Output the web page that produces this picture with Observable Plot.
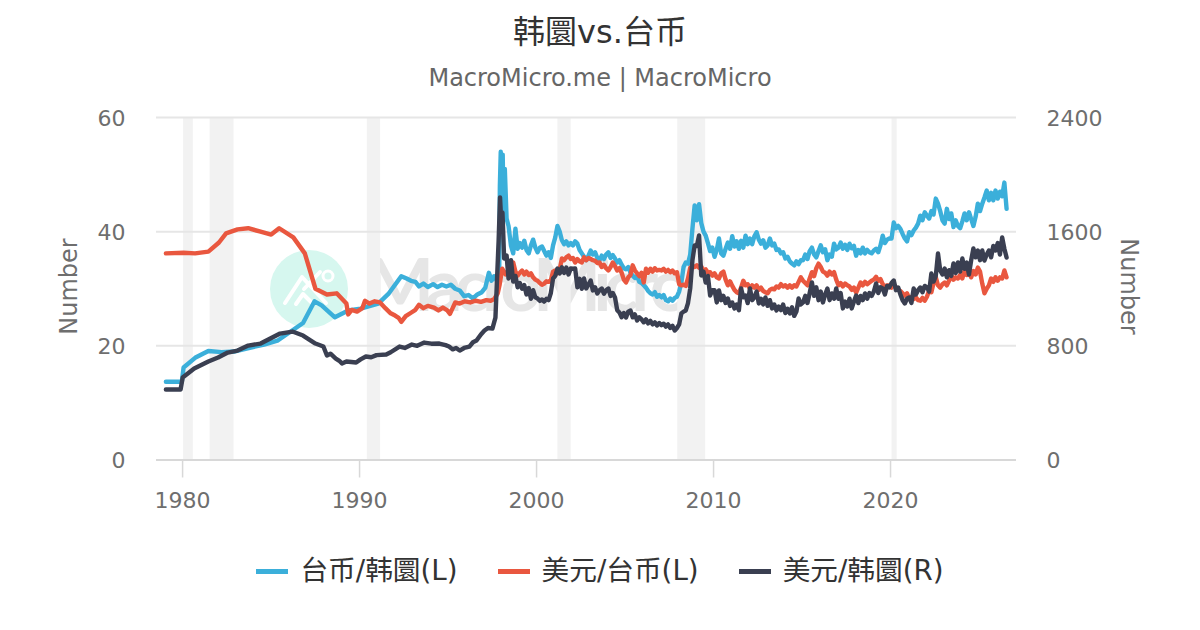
<!DOCTYPE html>
<html><head><meta charset="utf-8">
<script src="https://cdn.jsdelivr.net/npm/d3@7"></script>
<script src="https://cdn.jsdelivr.net/npm/@observablehq/plot@0.6"></script>
<style>
html,body{margin:0;padding:0;background:#fff;width:1200px;height:630px;overflow:hidden;font-family:"DejaVu Sans","Noto Sans CJK SC",sans-serif}
#wrap{position:relative;width:1200px;height:630px}
#title{position:absolute;left:0;width:1200px;top:11px;text-align:center;font-size:32px;line-height:42px;color:#333}
#sub{position:absolute;left:0;width:1200px;top:63px;text-align:center;font-size:24px;line-height:30px;color:#666}
#mark{position:absolute;left:0;top:0}
#chart{position:absolute;left:0;top:0}
#legend{position:absolute;left:0;width:1200px;top:551px;height:40px;display:flex;justify-content:center;gap:40px;font-size:27.7px;line-height:38px;color:#333}
#legend span{display:flex;align-items:center;gap:12px}
#legend i{display:block;width:32px;height:5px}
</style></head><body>
<div id="wrap">
<div id="title">韩圜vs.台币</div>
<div id="sub">MacroMicro.me | MacroMicro</div>
<svg id="mark" width="1200" height="630">
  <circle cx="309" cy="289" r="39" fill="#d6f7ef"/>
  <path d="M285 303 L302 277 L326 303 M296 304 L303 294 L313 304 M304 289 L320 272" fill="none" stroke="#fff" stroke-width="4" stroke-linecap="round" stroke-linejoin="round"/>
  <circle cx="328" cy="276" r="5" fill="none" stroke="#fff" stroke-width="3"/>
  <text x="366" y="311" font-size="72" font-weight="bold" fill="#e6e6e6" font-family="Lato,'DejaVu Sans',sans-serif" textLength="325">MacroMicro</text>
</svg>
<div id="chart"></div>
<div id="legend"></div>
</div>
<script>
const seriesNames = ["台币/韩圜(L)", "美元/台币(L)", "美元/韩圜(R)"];
const seriesColors = ["#3BAFDA", "#E9573F", "#3A3F51"];
const recessionStart = [1980.0, 1981.5, 1990.38, 2001.15, 2007.92, 2020.03];
const recessionEnd   = [1980.55, 1982.85, 1991.13, 2001.9, 2009.5, 2020.32];
const xTicks = [1980, 1990, 2000, 2010, 2020];
const yTicks = [0, 20, 40, 60];

// Early, irregular readings up to the 1998 spike
const twdKrwEarlyYears = [1979,1979.9,1980.0,1980.65,1981.4,1982.15,1982.85,1983.8,1984.55,1985.3,1986.75,1987.4,1987.8,1988.55,1989.3,1990,1991,1991.6,1992.3,1992.6,1992.85,1993.1,1993.3,1993.55,1993.8,1994.1,1994.35,1994.6,1994.85,1995.1,1995.35,1995.6,1995.85,1996.1,1996.35,1996.6,1996.85,1997.05,1997.25,1997.4,1997.55,1997.7,1997.83,1997.87,1997.92,1997.97,1998.03,1998.08,1998.15,1998.25,1998.36];
const twdKrwEarlyValues = [13.7,13.7,16.2,17.9,19.1,18.9,19,19.7,20.2,20.9,24,27.8,27.1,25,26.2,26.5,27.4,29.2,32.2,31.8,31.4,31.2,30.4,30.9,30.3,30.8,30.3,30.7,30.4,30.7,30,29.7,28.7,28.9,28.3,29,29.4,30.2,32.8,31.4,32.2,31.4,31.8,48,54,50,53.5,44,51,42.3,41];
const usdTwdEarlyYears = [1979,1980,1980.65,1981.4,1982.0,1982.4,1983.05,1983.65,1984.35,1984.95,1985.4,1986.2,1986.85,1987.45,1988.1,1988.65,1989.2,1989.3,1989.5,1989.8,1990.1,1990.25,1990.5,1990.8,1991.1,1991.4,1991.7,1991.95,1992.15,1992.3,1992.55,1992.85,1993.1,1993.3,1993.55,1993.8,1994.15,1994.4,1994.65,1994.9,1995.05,1995.2,1995.35,1995.6,1995.9,1996.2,1996.5,1996.8,1997.1,1997.35,1997.55,1997.75,1997.85,1998.0,1998.2,1998.36];
const usdTwdEarlyValues = [36.2,36.3,36.2,36.5,38.1,39.7,40.4,40.6,40,39.5,40.6,39,36.2,30,29,29.2,27.4,25.5,26.3,26,26.6,27.9,27.4,27.8,27.6,26.6,25.7,25.3,24.9,24.2,25.2,25.8,26.3,27.2,26.6,27,26.7,26.2,26.7,26.2,25.6,26.6,27.6,27.4,27.8,27.6,27.9,27.7,28,27.9,28.2,29.2,30.6,33.5,32.5,33.2];
const usdKrwEarlyYears = [1979,1979.83,1979.95,1980.6,1981.4,1981.95,1982.5,1983.05,1983.65,1984.35,1984.9,1985.45,1986.15,1986.75,1987.45,1987.9,1988.1,1988.3,1988.6,1988.8,1988.95,1989.2,1989.75,1990,1990.3,1990.6,1990.9,1991.45,1991.7,1992.2,1992.5,1992.9,1993.2,1993.6,1994,1994.45,1994.8,1995,1995.2,1995.4,1995.6,1995.85,1996.15,1996.35,1996.55,1996.8,1997,1997.2,1997.45,1997.62,1997.7,1997.8,1997.88,1997.95,1998.02,1998.11,1998.25,1998.36];
const usdKrwEarlyValues = [494,494,578,641,690,718,753,767,802,816,851,886,900,872,816,795,732,745,711,695,676,690,683,705,725,720,735,739,755,795,785,809,800,823,815,816,805,795,775,785,767,785,795,825,837,880,907,925,921,998,1237,1538,1840,1664,1734,1412,1433,1272];

// Readings every eighth of a year from 1998.5 on
const twdKrwLate = [37.5,36.2,40.5,37,
38,37.2,38.4,36.8,36.2,37.6,38.6,37.2,
36.4,37.2,37.4,36.6,35.8,36.4,35.4,37.6,
39,41,40,38.5,37.8,38.3,37.6,38,
37.6,38.3,37.9,36.8,36.2,35.6,35,35.8,
36.7,36,36.4,35.4,35,35.8,35.2,36,
36.4,35.4,35.9,35.3,34.6,35,34.2,33.6,
33.4,33.8,32.8,32.3,31.9,32.2,31.2,31,
30.6,30.2,29.6,29.2,29,29.4,28.6,28.9,
28.5,28.9,28,27.8,28.3,27.9,28.4,28.6,
29.5,31.1,33.8,34.6,34.4,36,40.5,44.6,
42,44.8,41.5,40,39.3,38,36.6,37.2,
35.6,36.8,38.8,36.2,35.8,37,38.1,37,
39.2,37.4,38.3,37,38.4,37.2,39.3,37.8,
38.8,37.8,39.2,39.9,38.6,37.9,38.5,37.2,
37.6,38.8,37.6,37.9,36.8,36.9,36.2,36.4,
35.3,35.6,34.8,34.4,34.1,34.8,34.3,35,
35,36,35.2,36.6,37.2,36,35.5,36.6,
37.6,36.4,36.9,35,36,35.6,37.9,36.9,
37.2,38.1,37,37.7,36.8,37.9,37.1,37.5,
35.8,36.8,36.2,37.2,36.2,36.8,36.4,36.2,
36.7,37,36.4,37.6,39.3,38,38.6,38.8,
38.8,41.6,40.6,41,40.5,39.6,38.8,38.3,
39.9,39.4,40.2,40.7,41.4,42.8,42,43.4,
42.8,42.3,43.6,43,45.8,44.9,43.6,42,
41.4,44,42.2,43.2,40.8,42,41,40.6,
41.8,43.2,42,43.4,42.2,41,42.6,44.9,
43.6,44.9,46,47.2,45.5,46.8,45.5,47.2,
45.8,47,46.2,48.6,44];
const usdTwdLate = [33.5,34.6,33,32.3,
32.8,33.2,32.5,33,32.4,32.7,32,31.6,
31.4,31,30.7,30.9,31.3,31.2,31.5,33,
33.2,32.7,33.4,35.3,35,35.5,35.8,35.2,
35.4,34.6,35.2,34.8,34.6,35.5,35,35.4,
35.2,35,34.9,34.5,34.6,33.8,34.2,33.6,
33.2,33.8,34.6,34,33.2,33.6,32.8,31.6,
31.1,32,32.4,34.1,33.2,32.7,32.2,32.8,
31.1,33.5,32.8,33.5,33,33.6,33.2,33.3,
33.2,33.5,33,33.3,32.9,33.2,32.7,32.9,
30.8,30.6,30.7,30.5,31.8,33.7,34,33.8,
34.1,33.7,33.9,33.2,33.4,32.8,32.9,32.3,
32.7,32,31.8,32.7,33,31.6,30.6,31.3,
30.5,29.8,29.4,29.2,30.2,31.4,30.6,30.8,
30,30.6,30.2,30.6,29.8,30.2,29.6,29.4,
29.2,29.8,30,29.9,30.4,30.2,30.8,30.4,
30.6,30.2,30.6,30.2,30.6,30.4,31.2,32,
31.4,31,30.6,31.8,32.9,32.2,33.6,34.4,
33.8,33,32.8,32.3,33,32.5,32.9,31.6,
30.6,31,30.4,30.9,30.6,30.4,29.8,30.2,
29.3,30.2,31.1,30.6,31.2,30.8,31.1,31.4,
31.6,32.1,31.4,31.7,30.8,30.4,30.6,30.6,
30.2,30.8,30.2,29.8,29.6,29.2,28.8,29.2,
28.3,28.6,28.2,28.5,28,27.9,28.4,27.9,
28.6,29.7,29.4,31,32,30.6,30.2,30.8,
31.1,30.6,31.4,32.3,31.6,32,31.8,32.4,
31.8,33.2,32.4,33,32,33.1,32.5,33.7,
33,30.9,29.2,30,30.6,31.8,31.2,32,
31.4,32,31.8,33.2,32];
const usdKrwLate = [1400,1250,1290,1210,
1240,1200,1225,1160,1205,1130,1190,1140,
1132,1115,1125,1110,1130,1120,1170,1272,
1290,1342,1307,1350,1310,1349,1300,1342,
1340,1342,1210,1270,1200,1272,1202,1230,
1258,1188,1210,1167,1190,1202,1165,1190,
1202,1150,1170,1139,1050,1034,1000,1030,
998,1040,1048,1000,1020,978,1000,985,
965,985,957,975,950,965,943,960,
945,955,935,950,925,940,907,925,
950,1027,1040,1048,1100,1202,1400,1503,
1500,1573,1293,1320,1244,1290,1153,1190,
1190,1104,1188,1120,1150,1100,1132,1080,
1104,1062,1090,1050,1202,1140,1153,1100,
1202,1120,1140,1180,1097,1130,1090,1139,
1080,1120,1062,1090,1048,1075,1050,1090,
1030,1060,1027,1070,1010,1040,1132,1090,
1104,1150,1100,1170,1244,1150,1210,1120,
1180,1104,1160,1202,1120,1167,1130,1202,
1130,1170,1062,1110,1075,1130,1062,1110,
1153,1100,1150,1120,1167,1130,1170,1150,
1180,1237,1170,1210,1202,1160,1220,1210,
1240,1258,1190,1209,1160,1120,1097,1130,
1139,1100,1202,1160,1190,1209,1175,1220,
1210,1180,1307,1250,1290,1447,1328,1300,
1342,1280,1330,1290,1377,1310,1384,1320,
1412,1340,1384,1300,1400,1482,1420,1468,
1400,1468,1398,1440,1468,1420,1500,1468,
1520,1440,1559,1480,1419];

const rightRatio = 2400 / 60;
const lateStart = 1998.5, lateStep = 0.125;
const rows = (ys, vs, late, name, k = 1) => [
  ...ys.map((year, i) => ({year, value: vs[i] / k, name})),
  ...late.map((v, i) => ({year: lateStart + i * lateStep, value: v / k, name}))
];
const all = [
  ...rows(twdKrwEarlyYears, twdKrwEarlyValues, twdKrwLate, seriesNames[0]),
  ...rows(usdTwdEarlyYears, usdTwdEarlyValues, usdTwdLate, seriesNames[1]),
  ...rows(usdKrwEarlyYears, usdKrwEarlyValues, usdKrwLate, seriesNames[2], rightRatio)
];
const recessions = recessionStart.map((s, i) => ({s, e: recessionEnd[i]}));

const chart = Plot.plot({
  width: 1200, height: 630,
  marginTop: 117, marginBottom: 170.5, marginLeft: 156, marginRight: 184,
  style: {background: "transparent", fontFamily: '"DejaVu Sans",sans-serif'},
  x: {domain: [1978.47, 2027.06]},
  y: {domain: [0, 60]},
  color: {domain: seriesNames, range: seriesColors},
  marks: [
    Plot.rectY(recessions, {x1: "s", x2: "e", y1: 0, y2: 60, fill: "#f2f2f2"}),
    Plot.ruleY(yTicks.slice(1), {stroke: "#e6e6e6", strokeWidth: 2}),
    Plot.ruleY([0], {stroke: "#d8d8d8", strokeWidth: 2}),
    Plot.axisX({ticks: xTicks, tickFormat: d => String(d), tickSize: 18, tickPadding: 14, stroke: "#d8d8d8", strokeWidth: 1.5, fontSize: 22, fill: "#6e6e6e", label: null, tickRotate: 0, dx: -1}),
    Plot.axisY({ticks: yTicks, tickSize: 0, tickPadding: 31, fontSize: 22, fill: "#6e6e6e", label: null, anchor: "left", dy: 1}),
    Plot.axisY({ticks: yTicks, tickFormat: d => String(d * rightRatio), tickSize: 0, tickPadding: 30, fontSize: 22, fill: "#6e6e6e", label: null, anchor: "right", dy: 1}),
    Plot.line(all, {x: "year", y: "value", z: "name", stroke: "name", strokeWidth: 4.4, strokeLinejoin: "round", curve: "linear"})
  ]
});
document.getElementById("chart").append(chart);

const svg = d3.select(chart);
[["Number", 70, 286.5, -90], ["Number", 1128, 286.5, 90]].forEach(([t, x, y, r]) => {
  svg.append("text").text(t).attr("transform", `translate(${x},${y}) rotate(${r})`)
    .attr("text-anchor", "middle").attr("dominant-baseline", "middle")
    .attr("font-size", 24).attr("fill", "#6e6e6e").attr("font-family", '"DejaVu Sans",sans-serif');
});

const legend = document.getElementById("legend");
seriesNames.forEach((n, i) => {
  const s = document.createElement("span");
  s.innerHTML = `<i style="background:${seriesColors[i]}"></i>${n}`;
  legend.append(s);
});
</script>
</body></html>
